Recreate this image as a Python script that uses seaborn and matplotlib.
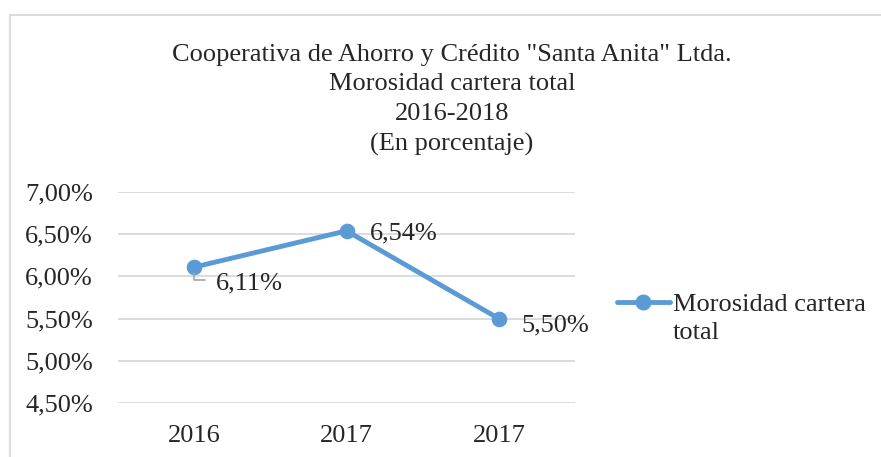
import matplotlib
matplotlib.use("Agg")
import matplotlib.pyplot as plt
import matplotlib.lines as mlines
from matplotlib.ticker import FuncFormatter, MultipleLocator
import seaborn as sns
import pandas as pd

# === DATA ===
years = ["2016", "2017", "2017"]
morosidad = [6.11, 6.54, 5.50]
series_name = "Morosidad cartera\ntotal"
title_lines = [
    'Cooperativa de Ahorro y Crédito "Santa Anita" Ltda.',
    "Morosidad cartera total",
    "2016-2018",
    "(En porcentaje)",
]

sns.set_style("white")
plt.rcParams['font.family'] = ['Liberation Serif', 'DejaVu Serif']
blue = "#5B9BD5"
grid = "#D9D9D9"
fs = 19

df = pd.DataFrame({"pos": range(len(years)), "valor": morosidad})

fig = plt.figure(figsize=(8.81, 4.57), dpi=100)
ax = fig.add_axes([118 / 881, 1 - 403 / 457, 457 / 881, 211 / 457])

sns.lineplot(data=df, x="pos", y="valor", ax=ax, color=blue, linewidth=3.5,
             marker="o", markersize=10.5, markeredgecolor=blue, legend=False)

ax.set_xlim(-0.5, len(years) - 0.5)
ax.set_ylim(4.5, 7.0)
ax.yaxis.set_major_locator(MultipleLocator(0.5))
ax.yaxis.set_major_formatter(FuncFormatter(lambda v, p: f"{v:.2f}%".replace(".", ",")))
ax.set_xticks(range(len(years)))
ax.set_xticklabels(years)
ax.set_xlabel("")
ax.set_ylabel("")
ax.tick_params(axis="y", length=0, pad=18, labelsize=fs)
ax.tick_params(axis="x", length=0, pad=16, labelsize=fs)
ax.grid(axis="y", color=grid, linewidth=1.3)
ax.set_axisbelow(True)
for s in ax.spines.values():
    s.set_visible(False)

# data labels
offsets = [(22, -16), (23, -3), (23, -7)]
for i, (v, off) in enumerate(zip(morosidad, offsets)):
    lab = f"{v:.2f}%".replace(".", ",")
    if i == 0:
        ax.annotate(lab, xy=(i, v), xytext=off, textcoords="offset pixels",
                    fontsize=fs, va="center", ha="left",
                    arrowprops=dict(arrowstyle="-", color="#A6A6A6", lw=1.2,
                                    relpos=(0, 0.62), shrinkA=6, shrinkB=4.5,
                                    connectionstyle="angle,angleA=0,angleB=90,rad=0"))
    else:
        ax.annotate(lab, xy=(i, v), xytext=off, textcoords="offset pixels",
                    fontsize=fs, va="center", ha="left")

# title
fig.text(452 / 881, 1 - 100 / 457, "\n".join(title_lines), ha="center", va="center",
         fontsize=fs, linespacing=1.46)

# legend (handle lifted to the first text line, as in the original)
handle = mlines.Line2D([], [], color=blue, linewidth=3.5, marker="o", markersize=10.5)
fig.legend([handle], [series_name], loc="center left",
           bbox_to_anchor=(617 / 881, 1 - 320.5 / 457), frameon=False,
           fontsize=fs, borderpad=0, borderaxespad=0, labelspacing=0,
           handlelength=2.0, handletextpad=0.11, handleheight=4.68)
plt.setp(fig.legends[0].get_texts(), linespacing=1.35)

# chart area border
fig.add_artist(mlines.Line2D([9.5 / 881, 9.5 / 881], [0, 1 - 15 / 457],
                             transform=fig.transFigure, color=grid, lw=1.3))
fig.add_artist(mlines.Line2D([9.5 / 881, 1], [1 - 15 / 457, 1 - 15 / 457],
                             transform=fig.transFigure, color=grid, lw=1.3))

fig.savefig("out.png", dpi=100)
